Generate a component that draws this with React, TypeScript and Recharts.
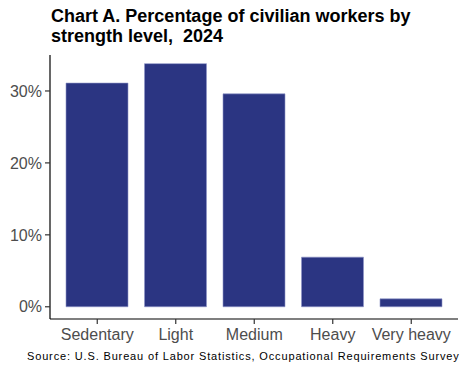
import React from 'react';
import { BarChart, Bar, XAxis, YAxis } from 'recharts';

const categories = ['Sedentary', 'Light', 'Medium', 'Heavy', 'Very heavy'];
const percentages = [31.1, 33.8, 29.6, 6.9, 1.1];
const yTicks = [0, 10, 20, 30];

const data = categories.map((c, i) => ({ category: c, value: percentages[i] }));

const FONT = '"Liberation Sans", Arial, Helvetica, sans-serif';

export default function App() {
  return (
    <div
      style={{
        position: 'absolute',
        left: 0,
        top: 0,
        width: 468,
        height: 372,
        background: '#ffffff',
        fontFamily: FONT,
        overflow: 'hidden',
      }}
    >
      <div
        style={{
          position: 'absolute',
          left: 51,
          top: 5.7,
          fontSize: 18,
          fontWeight: 'bold',
          lineHeight: '20px',
          color: '#000',
          whiteSpace: 'pre',
        }}
      >
        {'Chart A. Percentage of civilian workers by\nstrength level,  2024'}
      </div>
      <BarChart
        width={468}
        height={372}
        data={data}
        margin={{ top: 55, right: 10, left: 0, bottom: 23 }}
        style={{ position: 'absolute', left: 0, top: 0 }}
      >
        <XAxis
          dataKey="category"
          height={30}
          padding={{ left: 8, right: 7.5 }}
          tickSize={5}
          tickMargin={5}
          axisLine={{ stroke: '#000', strokeWidth: 1.2 }}
          tickLine={{ stroke: '#333', strokeWidth: 1.2 }}
          tick={{ fill: '#4d4d4d', fontSize: 16, fontFamily: FONT }}
          interval={0}
        />
        <YAxis
          width={50}
          domain={[-1.7, 35]}
          ticks={yTicks}
          allowDataOverflow
          tickFormatter={(v: number) => `${v}%`}
          tickSize={5}
          tickMargin={3}
          axisLine={{ stroke: '#000', strokeWidth: 1.2 }}
          tickLine={{ stroke: '#333', strokeWidth: 1.2 }}
          tick={{ fill: '#4d4d4d', fontSize: 16, fontFamily: FONT }}
        />
        <Bar
          dataKey="value"
          fill="#2B3582"
          stroke="#8f96c8"
          strokeWidth={0.6}
          barSize={62}
          isAnimationActive={false}
        />
      </BarChart>
      <div
        style={{
          position: 'absolute',
          left: 27,
          top: 350,
          fontSize: 11,
          letterSpacing: '0.85px',
          lineHeight: '13px',
          color: '#000',
          whiteSpace: 'pre',
        }}
      >
        Source: U.S. Bureau of Labor Statistics, Occupational Requirements Survey
      </div>
    </div>
  );
}
